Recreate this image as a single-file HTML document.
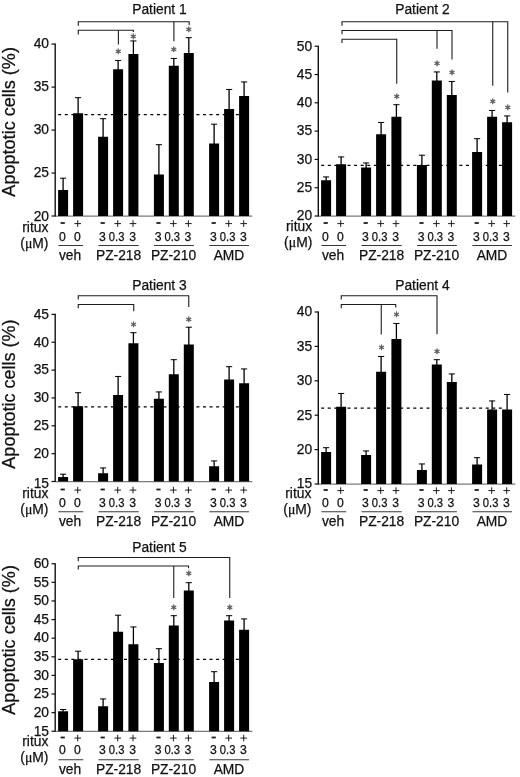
<!DOCTYPE html>
<html><head><meta charset="utf-8"><title>Apoptotic cells figure</title>
<style>
html,body{margin:0;padding:0;background:#fff;}
body{width:520px;height:777px;overflow:hidden;}
svg{display:block;font-family:"Liberation Sans",Arial,Helvetica,sans-serif;}
text{stroke:#111;stroke-width:.25px;}
text.st{font-family:"DejaVu Sans","Liberation Sans",sans-serif;stroke:#5e5e5e;stroke-width:.5px;}
.mu{font-family:"Liberation Serif","DejaVu Serif",serif;}
</style></head><body>
<svg width="520" height="777" viewBox="0 0 520 777">
<rect width="520" height="777" fill="#fff"/>
<line x1="55.2" y1="216.1" x2="252.3" y2="216.1" stroke="#7a7a7a" stroke-width="1.2"/>
<line x1="55.2" y1="43.5" x2="55.2" y2="216.5" stroke="#111" stroke-width="1.4"/>
<line x1="51.5" y1="44.1" x2="55.2" y2="44.1" stroke="#111" stroke-width="1.2"/>
<text x="49" y="48.4" font-size="13.8" text-anchor="end" fill="#111">40</text>
<line x1="51.5" y1="87.08" x2="55.2" y2="87.08" stroke="#111" stroke-width="1.2"/>
<text x="49" y="91.38" font-size="13.8" text-anchor="end" fill="#111">35</text>
<line x1="51.5" y1="130.05" x2="55.2" y2="130.05" stroke="#111" stroke-width="1.2"/>
<text x="49" y="134.35" font-size="13.8" text-anchor="end" fill="#111">30</text>
<line x1="51.5" y1="173.03" x2="55.2" y2="173.03" stroke="#111" stroke-width="1.2"/>
<text x="49" y="177.33" font-size="13.8" text-anchor="end" fill="#111">25</text>
<line x1="51.5" y1="216" x2="55.2" y2="216" stroke="#111" stroke-width="1.2"/>
<text x="49" y="220.6" font-size="13.8" text-anchor="end" fill="#111">20</text>
<line x1="58.2" y1="114.5" x2="241" y2="114.5" stroke="#000" stroke-width="1.25" stroke-dasharray="3 3.58"/>
<rect x="58.1" y="190" width="10" height="26" fill="#000"/>
<line x1="63.1" y1="178" x2="63.1" y2="190.5" stroke="#000" stroke-width="1.3"/>
<line x1="60" y1="178.2" x2="66.2" y2="178.2" stroke="#000" stroke-width="1"/>
<rect x="73.1" y="113.25" width="10" height="102.75" fill="#000"/>
<line x1="78.1" y1="97.5" x2="78.1" y2="113.75" stroke="#000" stroke-width="1.3"/>
<line x1="75" y1="97.7" x2="81.2" y2="97.7" stroke="#000" stroke-width="1"/>
<rect x="98.1" y="136.75" width="10" height="79.25" fill="#000"/>
<line x1="103.1" y1="118.5" x2="103.1" y2="137.25" stroke="#000" stroke-width="1.3"/>
<line x1="100" y1="118.7" x2="106.2" y2="118.7" stroke="#000" stroke-width="1"/>
<rect x="113.1" y="69.25" width="10" height="146.75" fill="#000"/>
<line x1="118.1" y1="60.25" x2="118.1" y2="69.75" stroke="#000" stroke-width="1.3"/>
<line x1="115" y1="60.45" x2="121.2" y2="60.45" stroke="#000" stroke-width="1"/>
<rect x="128.4" y="54" width="10" height="162" fill="#000"/>
<line x1="133.4" y1="40.75" x2="133.4" y2="54.5" stroke="#000" stroke-width="1.3"/>
<line x1="130.3" y1="40.95" x2="136.5" y2="40.95" stroke="#000" stroke-width="1"/>
<rect x="153.9" y="174.5" width="10" height="41.5" fill="#000"/>
<line x1="158.9" y1="144.5" x2="158.9" y2="175" stroke="#000" stroke-width="1.3"/>
<line x1="155.8" y1="144.7" x2="162" y2="144.7" stroke="#000" stroke-width="1"/>
<rect x="168.8" y="65.75" width="10" height="150.25" fill="#000"/>
<line x1="173.8" y1="58.25" x2="173.8" y2="66.25" stroke="#000" stroke-width="1.3"/>
<line x1="170.7" y1="58.45" x2="176.9" y2="58.45" stroke="#000" stroke-width="1"/>
<rect x="183.8" y="53" width="10" height="163" fill="#000"/>
<line x1="188.8" y1="37.5" x2="188.8" y2="53.5" stroke="#000" stroke-width="1.3"/>
<line x1="185.7" y1="37.7" x2="191.9" y2="37.7" stroke="#000" stroke-width="1"/>
<rect x="209.1" y="143.5" width="10" height="72.5" fill="#000"/>
<line x1="214.1" y1="124" x2="214.1" y2="144" stroke="#000" stroke-width="1.3"/>
<line x1="211" y1="124.2" x2="217.2" y2="124.2" stroke="#000" stroke-width="1"/>
<rect x="224.1" y="109" width="10" height="107" fill="#000"/>
<line x1="229.1" y1="89.25" x2="229.1" y2="109.5" stroke="#000" stroke-width="1.3"/>
<line x1="226" y1="89.45" x2="232.2" y2="89.45" stroke="#000" stroke-width="1"/>
<rect x="239.1" y="96" width="10" height="120" fill="#000"/>
<line x1="244.1" y1="81.75" x2="244.1" y2="96.5" stroke="#000" stroke-width="1.3"/>
<line x1="241" y1="81.95" x2="247.2" y2="81.95" stroke="#000" stroke-width="1"/>
<polyline points="78.25,25.75 78.25,21.75 189.2,21.75 189.2,25" fill="none" stroke="#1c1c1c" stroke-width="1.1"/>
<polyline points="78.25,34.4 78.25,30.2 133.4,30.2 133.4,31.9" fill="none" stroke="#1c1c1c" stroke-width="1.1"/>
<polyline points="118.4,30.2 118.4,44.5" fill="none" stroke="#1c1c1c" stroke-width="1.1"/>
<polyline points="173.9,21.75 173.9,41.25" fill="none" stroke="#1c1c1c" stroke-width="1.1"/>
<text class="st" x="118.25" y="54.3" font-size="8.4" text-anchor="middle" fill="#5e5e5e">∗</text>
<text class="st" x="133.25" y="38.55" font-size="8.4" text-anchor="middle" fill="#5e5e5e">∗</text>
<text class="st" x="173.75" y="52.3" font-size="8.4" text-anchor="middle" fill="#5e5e5e">∗</text>
<text class="st" x="188.75" y="31.55" font-size="8.4" text-anchor="middle" fill="#5e5e5e">∗</text>
<text x="132.2" y="14.35" font-size="13.8" fill="#111">Patient 1</text>
<text x="48.3" y="231.6" font-size="13.8" text-anchor="end" fill="#111">ritux</text>
<text x="20.3" y="247.6" font-size="13.8" textLength="28.2" lengthAdjust="spacingAndGlyphs" fill="#111">(<tspan class="mu">μ</tspan>M)</text>
<line x1="60.6" y1="223" x2="64.8" y2="223" stroke="#1c1c1c" stroke-width="1.8"/>
<line x1="74.4" y1="223.6" x2="81" y2="223.6" stroke="#1c1c1c" stroke-width="1"/>
<line x1="77.7" y1="220.3" x2="77.7" y2="226.9" stroke="#1c1c1c" stroke-width="1"/>
<line x1="100.6" y1="223" x2="104.8" y2="223" stroke="#1c1c1c" stroke-width="1.8"/>
<line x1="114.4" y1="223.6" x2="121" y2="223.6" stroke="#1c1c1c" stroke-width="1"/>
<line x1="117.7" y1="220.3" x2="117.7" y2="226.9" stroke="#1c1c1c" stroke-width="1"/>
<line x1="129.7" y1="223.6" x2="136.3" y2="223.6" stroke="#1c1c1c" stroke-width="1"/>
<line x1="133" y1="220.3" x2="133" y2="226.9" stroke="#1c1c1c" stroke-width="1"/>
<line x1="156.4" y1="223" x2="160.6" y2="223" stroke="#1c1c1c" stroke-width="1.8"/>
<line x1="170.1" y1="223.6" x2="176.7" y2="223.6" stroke="#1c1c1c" stroke-width="1"/>
<line x1="173.4" y1="220.3" x2="173.4" y2="226.9" stroke="#1c1c1c" stroke-width="1"/>
<line x1="185.1" y1="223.6" x2="191.7" y2="223.6" stroke="#1c1c1c" stroke-width="1"/>
<line x1="188.4" y1="220.3" x2="188.4" y2="226.9" stroke="#1c1c1c" stroke-width="1"/>
<line x1="211.6" y1="223" x2="215.8" y2="223" stroke="#1c1c1c" stroke-width="1.8"/>
<line x1="225.4" y1="223.6" x2="232" y2="223.6" stroke="#1c1c1c" stroke-width="1"/>
<line x1="228.7" y1="220.3" x2="228.7" y2="226.9" stroke="#1c1c1c" stroke-width="1"/>
<line x1="240.4" y1="223.6" x2="247" y2="223.6" stroke="#1c1c1c" stroke-width="1"/>
<line x1="243.7" y1="220.3" x2="243.7" y2="226.9" stroke="#1c1c1c" stroke-width="1"/>
<text x="62.3" y="240.65" font-size="12.2" text-anchor="middle" fill="#111">0</text>
<text x="77.3" y="240.65" font-size="12.2" text-anchor="middle" fill="#111">0</text>
<text x="102.3" y="240.65" font-size="12.2" text-anchor="middle" fill="#111">3</text>
<text x="116.6" y="240.65" font-size="12.2" text-anchor="middle" textLength="15.6" lengthAdjust="spacingAndGlyphs" fill="#111">0.3</text>
<text x="132.6" y="240.65" font-size="12.2" text-anchor="middle" fill="#111">3</text>
<text x="158.1" y="240.65" font-size="12.2" text-anchor="middle" fill="#111">3</text>
<text x="172.3" y="240.65" font-size="12.2" text-anchor="middle" textLength="15.6" lengthAdjust="spacingAndGlyphs" fill="#111">0.3</text>
<text x="188" y="240.65" font-size="12.2" text-anchor="middle" fill="#111">3</text>
<text x="213.3" y="240.65" font-size="12.2" text-anchor="middle" fill="#111">3</text>
<text x="227.6" y="240.65" font-size="12.2" text-anchor="middle" textLength="15.6" lengthAdjust="spacingAndGlyphs" fill="#111">0.3</text>
<text x="243.3" y="240.65" font-size="12.2" text-anchor="middle" fill="#111">3</text>
<line x1="58.4" y1="245.5" x2="83.2" y2="245.5" stroke="#222" stroke-width="0.9"/>
<text x="70" y="259.5" font-size="13.8" text-anchor="middle" fill="#111">veh</text>
<line x1="98.5" y1="245.5" x2="138.7" y2="245.5" stroke="#222" stroke-width="0.9"/>
<text x="118.6" y="259.5" font-size="13.8" text-anchor="middle" fill="#111">PZ-218</text>
<line x1="154.1" y1="245.5" x2="193.9" y2="245.5" stroke="#222" stroke-width="0.9"/>
<text x="173.5" y="259.5" font-size="13.8" text-anchor="middle" fill="#111">PZ-210</text>
<line x1="209.4" y1="245.5" x2="249" y2="245.5" stroke="#222" stroke-width="0.9"/>
<text x="229" y="259.5" font-size="13.8" text-anchor="middle" fill="#111">AMD</text>
<text transform="translate(15.1 121.85) rotate(-90)" font-size="18" text-anchor="middle" textLength="149.6" lengthAdjust="spacingAndGlyphs" fill="#111">Apoptotic cells (%)</text>
<line x1="318.3" y1="216.1" x2="515.3" y2="216.1" stroke="#7a7a7a" stroke-width="1.2"/>
<line x1="318.3" y1="45.65" x2="318.3" y2="216.5" stroke="#111" stroke-width="1.4"/>
<line x1="314.6" y1="46.25" x2="318.3" y2="46.25" stroke="#111" stroke-width="1.2"/>
<text x="312.1" y="50.55" font-size="13.8" text-anchor="end" fill="#111">50</text>
<line x1="314.6" y1="74.54" x2="318.3" y2="74.54" stroke="#111" stroke-width="1.2"/>
<text x="312.1" y="78.84" font-size="13.8" text-anchor="end" fill="#111">45</text>
<line x1="314.6" y1="102.83" x2="318.3" y2="102.83" stroke="#111" stroke-width="1.2"/>
<text x="312.1" y="107.13" font-size="13.8" text-anchor="end" fill="#111">40</text>
<line x1="314.6" y1="131.12" x2="318.3" y2="131.12" stroke="#111" stroke-width="1.2"/>
<text x="312.1" y="135.43" font-size="13.8" text-anchor="end" fill="#111">35</text>
<line x1="314.6" y1="159.42" x2="318.3" y2="159.42" stroke="#111" stroke-width="1.2"/>
<text x="312.1" y="163.72" font-size="13.8" text-anchor="end" fill="#111">30</text>
<line x1="314.6" y1="187.71" x2="318.3" y2="187.71" stroke="#111" stroke-width="1.2"/>
<text x="312.1" y="192.01" font-size="13.8" text-anchor="end" fill="#111">25</text>
<line x1="314.6" y1="216" x2="318.3" y2="216" stroke="#111" stroke-width="1.2"/>
<text x="312.1" y="220.2" font-size="13.8" text-anchor="end" fill="#111">20</text>
<line x1="321.2" y1="165.25" x2="504" y2="165.25" stroke="#000" stroke-width="1.25" stroke-dasharray="3 3.58"/>
<rect x="321.1" y="180.25" width="10" height="35.75" fill="#000"/>
<line x1="326.1" y1="176.75" x2="326.1" y2="180.75" stroke="#000" stroke-width="1.3"/>
<line x1="323" y1="176.95" x2="329.2" y2="176.95" stroke="#000" stroke-width="1"/>
<rect x="336.1" y="164.25" width="10" height="51.75" fill="#000"/>
<line x1="341.1" y1="156.75" x2="341.1" y2="164.75" stroke="#000" stroke-width="1.3"/>
<line x1="338" y1="156.95" x2="344.2" y2="156.95" stroke="#000" stroke-width="1"/>
<rect x="361.1" y="167.5" width="10" height="48.5" fill="#000"/>
<line x1="366.1" y1="162.75" x2="366.1" y2="168" stroke="#000" stroke-width="1.3"/>
<line x1="363" y1="162.95" x2="369.2" y2="162.95" stroke="#000" stroke-width="1"/>
<rect x="376.1" y="134.25" width="10" height="81.75" fill="#000"/>
<line x1="381.1" y1="122.25" x2="381.1" y2="134.75" stroke="#000" stroke-width="1.3"/>
<line x1="378" y1="122.45" x2="384.2" y2="122.45" stroke="#000" stroke-width="1"/>
<rect x="391.4" y="116.75" width="10" height="99.25" fill="#000"/>
<line x1="396.4" y1="104.5" x2="396.4" y2="117.25" stroke="#000" stroke-width="1.3"/>
<line x1="393.3" y1="104.7" x2="399.5" y2="104.7" stroke="#000" stroke-width="1"/>
<rect x="416.9" y="165" width="10" height="51" fill="#000"/>
<line x1="421.9" y1="155" x2="421.9" y2="165.5" stroke="#000" stroke-width="1.3"/>
<line x1="418.8" y1="155.2" x2="425" y2="155.2" stroke="#000" stroke-width="1"/>
<rect x="431.8" y="80.5" width="10" height="135.5" fill="#000"/>
<line x1="436.8" y1="71.75" x2="436.8" y2="81" stroke="#000" stroke-width="1.3"/>
<line x1="433.7" y1="71.95" x2="439.9" y2="71.95" stroke="#000" stroke-width="1"/>
<rect x="446.8" y="95" width="10" height="121" fill="#000"/>
<line x1="451.8" y1="81.25" x2="451.8" y2="95.5" stroke="#000" stroke-width="1.3"/>
<line x1="448.7" y1="81.45" x2="454.9" y2="81.45" stroke="#000" stroke-width="1"/>
<rect x="472.1" y="152" width="10" height="64" fill="#000"/>
<line x1="477.1" y1="138.5" x2="477.1" y2="152.5" stroke="#000" stroke-width="1.3"/>
<line x1="474" y1="138.7" x2="480.2" y2="138.7" stroke="#000" stroke-width="1"/>
<rect x="487.1" y="116.75" width="10" height="99.25" fill="#000"/>
<line x1="492.1" y1="110.25" x2="492.1" y2="117.25" stroke="#000" stroke-width="1.3"/>
<line x1="489" y1="110.45" x2="495.2" y2="110.45" stroke="#000" stroke-width="1"/>
<rect x="502.1" y="122.25" width="10" height="93.75" fill="#000"/>
<line x1="507.1" y1="115.75" x2="507.1" y2="122.75" stroke="#000" stroke-width="1.3"/>
<line x1="504" y1="115.95" x2="510.2" y2="115.95" stroke="#000" stroke-width="1"/>
<polyline points="342,25.75 342,21.75 507.75,21.75 507.75,92.5" fill="none" stroke="#1c1c1c" stroke-width="1.1"/>
<polyline points="492.75,21.75 492.75,85.75" fill="none" stroke="#1c1c1c" stroke-width="1.1"/>
<polyline points="342,34.25 342,30.5 452,30.5 452,59.5" fill="none" stroke="#1c1c1c" stroke-width="1.1"/>
<polyline points="437,30.5 437,48.75" fill="none" stroke="#1c1c1c" stroke-width="1.1"/>
<polyline points="342,43 342,39.25 396.75,39.25 396.75,83.75" fill="none" stroke="#1c1c1c" stroke-width="1.1"/>
<text class="st" x="396.75" y="98.55" font-size="8.4" text-anchor="middle" fill="#5e5e5e">∗</text>
<text class="st" x="437" y="65.55" font-size="8.4" text-anchor="middle" fill="#5e5e5e">∗</text>
<text class="st" x="452" y="75.3" font-size="8.4" text-anchor="middle" fill="#5e5e5e">∗</text>
<text class="st" x="492.75" y="104.3" font-size="8.4" text-anchor="middle" fill="#5e5e5e">∗</text>
<text class="st" x="507.75" y="109.8" font-size="8.4" text-anchor="middle" fill="#5e5e5e">∗</text>
<text x="395.2" y="14.35" font-size="13.8" fill="#111">Patient 2</text>
<text x="312.1" y="230.8" font-size="13.8" text-anchor="end" fill="#111">ritux</text>
<text x="284.1" y="247.4" font-size="13.8" textLength="28.2" lengthAdjust="spacingAndGlyphs" fill="#111">(<tspan class="mu">μ</tspan>M)</text>
<line x1="323.6" y1="223" x2="327.8" y2="223" stroke="#1c1c1c" stroke-width="1.8"/>
<line x1="337.4" y1="223.6" x2="344" y2="223.6" stroke="#1c1c1c" stroke-width="1"/>
<line x1="340.7" y1="220.3" x2="340.7" y2="226.9" stroke="#1c1c1c" stroke-width="1"/>
<line x1="363.6" y1="223" x2="367.8" y2="223" stroke="#1c1c1c" stroke-width="1.8"/>
<line x1="377.4" y1="223.6" x2="384" y2="223.6" stroke="#1c1c1c" stroke-width="1"/>
<line x1="380.7" y1="220.3" x2="380.7" y2="226.9" stroke="#1c1c1c" stroke-width="1"/>
<line x1="392.7" y1="223.6" x2="399.3" y2="223.6" stroke="#1c1c1c" stroke-width="1"/>
<line x1="396" y1="220.3" x2="396" y2="226.9" stroke="#1c1c1c" stroke-width="1"/>
<line x1="419.4" y1="223" x2="423.6" y2="223" stroke="#1c1c1c" stroke-width="1.8"/>
<line x1="433.1" y1="223.6" x2="439.7" y2="223.6" stroke="#1c1c1c" stroke-width="1"/>
<line x1="436.4" y1="220.3" x2="436.4" y2="226.9" stroke="#1c1c1c" stroke-width="1"/>
<line x1="448.1" y1="223.6" x2="454.7" y2="223.6" stroke="#1c1c1c" stroke-width="1"/>
<line x1="451.4" y1="220.3" x2="451.4" y2="226.9" stroke="#1c1c1c" stroke-width="1"/>
<line x1="474.6" y1="223" x2="478.8" y2="223" stroke="#1c1c1c" stroke-width="1.8"/>
<line x1="488.4" y1="223.6" x2="495" y2="223.6" stroke="#1c1c1c" stroke-width="1"/>
<line x1="491.7" y1="220.3" x2="491.7" y2="226.9" stroke="#1c1c1c" stroke-width="1"/>
<line x1="503.4" y1="223.6" x2="510" y2="223.6" stroke="#1c1c1c" stroke-width="1"/>
<line x1="506.7" y1="220.3" x2="506.7" y2="226.9" stroke="#1c1c1c" stroke-width="1"/>
<text x="325.3" y="240.65" font-size="12.2" text-anchor="middle" fill="#111">0</text>
<text x="340.3" y="240.65" font-size="12.2" text-anchor="middle" fill="#111">0</text>
<text x="365.3" y="240.65" font-size="12.2" text-anchor="middle" fill="#111">3</text>
<text x="379.6" y="240.65" font-size="12.2" text-anchor="middle" textLength="15.6" lengthAdjust="spacingAndGlyphs" fill="#111">0.3</text>
<text x="395.6" y="240.65" font-size="12.2" text-anchor="middle" fill="#111">3</text>
<text x="421.1" y="240.65" font-size="12.2" text-anchor="middle" fill="#111">3</text>
<text x="435.3" y="240.65" font-size="12.2" text-anchor="middle" textLength="15.6" lengthAdjust="spacingAndGlyphs" fill="#111">0.3</text>
<text x="451" y="240.65" font-size="12.2" text-anchor="middle" fill="#111">3</text>
<text x="476.3" y="240.65" font-size="12.2" text-anchor="middle" fill="#111">3</text>
<text x="490.6" y="240.65" font-size="12.2" text-anchor="middle" textLength="15.6" lengthAdjust="spacingAndGlyphs" fill="#111">0.3</text>
<text x="506.3" y="240.65" font-size="12.2" text-anchor="middle" fill="#111">3</text>
<line x1="321.4" y1="245.5" x2="346.2" y2="245.5" stroke="#222" stroke-width="0.9"/>
<text x="333" y="259.5" font-size="13.8" text-anchor="middle" fill="#111">veh</text>
<line x1="361.5" y1="245.5" x2="401.7" y2="245.5" stroke="#222" stroke-width="0.9"/>
<text x="381.6" y="259.5" font-size="13.8" text-anchor="middle" fill="#111">PZ-218</text>
<line x1="417.1" y1="245.5" x2="456.9" y2="245.5" stroke="#222" stroke-width="0.9"/>
<text x="436.5" y="259.5" font-size="13.8" text-anchor="middle" fill="#111">PZ-210</text>
<line x1="472.4" y1="245.5" x2="512" y2="245.5" stroke="#222" stroke-width="0.9"/>
<text x="492" y="259.5" font-size="13.8" text-anchor="middle" fill="#111">AMD</text>
<line x1="55.2" y1="481.6" x2="252.3" y2="481.6" stroke="#7a7a7a" stroke-width="1.2"/>
<line x1="55.2" y1="313.8" x2="55.2" y2="482" stroke="#111" stroke-width="1.4"/>
<line x1="51.5" y1="314.4" x2="55.2" y2="314.4" stroke="#111" stroke-width="1.2"/>
<text x="49" y="318.7" font-size="13.8" text-anchor="end" fill="#111">45</text>
<line x1="51.5" y1="342.25" x2="55.2" y2="342.25" stroke="#111" stroke-width="1.2"/>
<text x="49" y="346.55" font-size="13.8" text-anchor="end" fill="#111">40</text>
<line x1="51.5" y1="370.1" x2="55.2" y2="370.1" stroke="#111" stroke-width="1.2"/>
<text x="49" y="374.4" font-size="13.8" text-anchor="end" fill="#111">35</text>
<line x1="51.5" y1="397.95" x2="55.2" y2="397.95" stroke="#111" stroke-width="1.2"/>
<text x="49" y="402.25" font-size="13.8" text-anchor="end" fill="#111">30</text>
<line x1="51.5" y1="425.8" x2="55.2" y2="425.8" stroke="#111" stroke-width="1.2"/>
<text x="49" y="430.1" font-size="13.8" text-anchor="end" fill="#111">25</text>
<line x1="51.5" y1="453.65" x2="55.2" y2="453.65" stroke="#111" stroke-width="1.2"/>
<text x="49" y="457.95" font-size="13.8" text-anchor="end" fill="#111">20</text>
<line x1="51.5" y1="481.5" x2="55.2" y2="481.5" stroke="#111" stroke-width="1.2"/>
<text x="49" y="488" font-size="13.8" text-anchor="end" fill="#111">15</text>
<line x1="58.2" y1="406.75" x2="241" y2="406.75" stroke="#000" stroke-width="1.25" stroke-dasharray="3 3.58"/>
<rect x="58.1" y="477" width="10" height="4.5" fill="#000"/>
<line x1="63.1" y1="474" x2="63.1" y2="477.5" stroke="#000" stroke-width="1.3"/>
<line x1="60" y1="474.2" x2="66.2" y2="474.2" stroke="#000" stroke-width="1"/>
<rect x="73.1" y="406.25" width="10" height="75.25" fill="#000"/>
<line x1="78.1" y1="392.5" x2="78.1" y2="406.75" stroke="#000" stroke-width="1.3"/>
<line x1="75" y1="392.7" x2="81.2" y2="392.7" stroke="#000" stroke-width="1"/>
<rect x="98.1" y="473.25" width="10" height="8.25" fill="#000"/>
<line x1="103.1" y1="467.75" x2="103.1" y2="473.75" stroke="#000" stroke-width="1.3"/>
<line x1="100" y1="467.95" x2="106.2" y2="467.95" stroke="#000" stroke-width="1"/>
<rect x="113.1" y="395" width="10" height="86.5" fill="#000"/>
<line x1="118.1" y1="376.25" x2="118.1" y2="395.5" stroke="#000" stroke-width="1.3"/>
<line x1="115" y1="376.45" x2="121.2" y2="376.45" stroke="#000" stroke-width="1"/>
<rect x="128.4" y="343.25" width="10" height="138.25" fill="#000"/>
<line x1="133.4" y1="332.5" x2="133.4" y2="343.75" stroke="#000" stroke-width="1.3"/>
<line x1="130.3" y1="332.7" x2="136.5" y2="332.7" stroke="#000" stroke-width="1"/>
<rect x="153.9" y="398.75" width="10" height="82.75" fill="#000"/>
<line x1="158.9" y1="391.75" x2="158.9" y2="399.25" stroke="#000" stroke-width="1.3"/>
<line x1="155.8" y1="391.95" x2="162" y2="391.95" stroke="#000" stroke-width="1"/>
<rect x="168.8" y="374.25" width="10" height="107.25" fill="#000"/>
<line x1="173.8" y1="359.5" x2="173.8" y2="374.75" stroke="#000" stroke-width="1.3"/>
<line x1="170.7" y1="359.7" x2="176.9" y2="359.7" stroke="#000" stroke-width="1"/>
<rect x="183.8" y="344.5" width="10" height="137" fill="#000"/>
<line x1="188.8" y1="327" x2="188.8" y2="345" stroke="#000" stroke-width="1.3"/>
<line x1="185.7" y1="327.2" x2="191.9" y2="327.2" stroke="#000" stroke-width="1"/>
<rect x="209.1" y="466.25" width="10" height="15.25" fill="#000"/>
<line x1="214.1" y1="460.75" x2="214.1" y2="466.75" stroke="#000" stroke-width="1.3"/>
<line x1="211" y1="460.95" x2="217.2" y2="460.95" stroke="#000" stroke-width="1"/>
<rect x="224.1" y="379.5" width="10" height="102" fill="#000"/>
<line x1="229.1" y1="366.5" x2="229.1" y2="380" stroke="#000" stroke-width="1.3"/>
<line x1="226" y1="366.7" x2="232.2" y2="366.7" stroke="#000" stroke-width="1"/>
<rect x="239.1" y="383.25" width="10" height="98.25" fill="#000"/>
<line x1="244.1" y1="368.75" x2="244.1" y2="383.75" stroke="#000" stroke-width="1.3"/>
<line x1="241" y1="368.95" x2="247.2" y2="368.95" stroke="#000" stroke-width="1"/>
<polyline points="78.25,299.5 78.25,295.75 188.75,295.75 188.75,307" fill="none" stroke="#1c1c1c" stroke-width="1.1"/>
<polyline points="78.25,308.25 78.25,304.5 133.75,304.5 133.75,311.25" fill="none" stroke="#1c1c1c" stroke-width="1.1"/>
<text class="st" x="133.5" y="326.55" font-size="8.4" text-anchor="middle" fill="#5e5e5e">∗</text>
<text class="st" x="188.75" y="321.55" font-size="8.4" text-anchor="middle" fill="#5e5e5e">∗</text>
<text x="132.2" y="290.1" font-size="13.8" fill="#111">Patient 3</text>
<text x="48.3" y="498" font-size="13.8" text-anchor="end" fill="#111">ritux</text>
<text x="20.3" y="514" font-size="13.8" textLength="28.2" lengthAdjust="spacingAndGlyphs" fill="#111">(<tspan class="mu">μ</tspan>M)</text>
<line x1="60.6" y1="489.5" x2="64.8" y2="489.5" stroke="#1c1c1c" stroke-width="1.8"/>
<line x1="74.4" y1="490.1" x2="81" y2="490.1" stroke="#1c1c1c" stroke-width="1"/>
<line x1="77.7" y1="486.8" x2="77.7" y2="493.4" stroke="#1c1c1c" stroke-width="1"/>
<line x1="100.6" y1="489.5" x2="104.8" y2="489.5" stroke="#1c1c1c" stroke-width="1.8"/>
<line x1="114.4" y1="490.1" x2="121" y2="490.1" stroke="#1c1c1c" stroke-width="1"/>
<line x1="117.7" y1="486.8" x2="117.7" y2="493.4" stroke="#1c1c1c" stroke-width="1"/>
<line x1="129.7" y1="490.1" x2="136.3" y2="490.1" stroke="#1c1c1c" stroke-width="1"/>
<line x1="133" y1="486.8" x2="133" y2="493.4" stroke="#1c1c1c" stroke-width="1"/>
<line x1="156.4" y1="489.5" x2="160.6" y2="489.5" stroke="#1c1c1c" stroke-width="1.8"/>
<line x1="170.1" y1="490.1" x2="176.7" y2="490.1" stroke="#1c1c1c" stroke-width="1"/>
<line x1="173.4" y1="486.8" x2="173.4" y2="493.4" stroke="#1c1c1c" stroke-width="1"/>
<line x1="185.1" y1="490.1" x2="191.7" y2="490.1" stroke="#1c1c1c" stroke-width="1"/>
<line x1="188.4" y1="486.8" x2="188.4" y2="493.4" stroke="#1c1c1c" stroke-width="1"/>
<line x1="211.6" y1="489.5" x2="215.8" y2="489.5" stroke="#1c1c1c" stroke-width="1.8"/>
<line x1="225.4" y1="490.1" x2="232" y2="490.1" stroke="#1c1c1c" stroke-width="1"/>
<line x1="228.7" y1="486.8" x2="228.7" y2="493.4" stroke="#1c1c1c" stroke-width="1"/>
<line x1="240.4" y1="490.1" x2="247" y2="490.1" stroke="#1c1c1c" stroke-width="1"/>
<line x1="243.7" y1="486.8" x2="243.7" y2="493.4" stroke="#1c1c1c" stroke-width="1"/>
<text x="62.3" y="506.9" font-size="12.2" text-anchor="middle" fill="#111">0</text>
<text x="77.3" y="506.9" font-size="12.2" text-anchor="middle" fill="#111">0</text>
<text x="102.3" y="506.9" font-size="12.2" text-anchor="middle" fill="#111">3</text>
<text x="116.6" y="506.9" font-size="12.2" text-anchor="middle" textLength="15.6" lengthAdjust="spacingAndGlyphs" fill="#111">0.3</text>
<text x="132.6" y="506.9" font-size="12.2" text-anchor="middle" fill="#111">3</text>
<text x="158.1" y="506.9" font-size="12.2" text-anchor="middle" fill="#111">3</text>
<text x="172.3" y="506.9" font-size="12.2" text-anchor="middle" textLength="15.6" lengthAdjust="spacingAndGlyphs" fill="#111">0.3</text>
<text x="188" y="506.9" font-size="12.2" text-anchor="middle" fill="#111">3</text>
<text x="213.3" y="506.9" font-size="12.2" text-anchor="middle" fill="#111">3</text>
<text x="227.6" y="506.9" font-size="12.2" text-anchor="middle" textLength="15.6" lengthAdjust="spacingAndGlyphs" fill="#111">0.3</text>
<text x="243.3" y="506.9" font-size="12.2" text-anchor="middle" fill="#111">3</text>
<line x1="58.4" y1="511.75" x2="83.2" y2="511.75" stroke="#222" stroke-width="0.9"/>
<text x="70" y="526.25" font-size="13.8" text-anchor="middle" fill="#111">veh</text>
<line x1="98.5" y1="511.75" x2="138.7" y2="511.75" stroke="#222" stroke-width="0.9"/>
<text x="118.6" y="526.25" font-size="13.8" text-anchor="middle" fill="#111">PZ-218</text>
<line x1="154.1" y1="511.75" x2="193.9" y2="511.75" stroke="#222" stroke-width="0.9"/>
<text x="173.5" y="526.25" font-size="13.8" text-anchor="middle" fill="#111">PZ-210</text>
<line x1="209.4" y1="511.75" x2="249" y2="511.75" stroke="#222" stroke-width="0.9"/>
<text x="229" y="526.25" font-size="13.8" text-anchor="middle" fill="#111">AMD</text>
<text transform="translate(15.1 394.05) rotate(-90)" font-size="18" text-anchor="middle" textLength="149.2" lengthAdjust="spacingAndGlyphs" fill="#111">Apoptotic cells (%)</text>
<line x1="318.3" y1="484.1" x2="515.3" y2="484.1" stroke="#7a7a7a" stroke-width="1.2"/>
<line x1="318.3" y1="311.4" x2="318.3" y2="484.5" stroke="#111" stroke-width="1.4"/>
<line x1="314.6" y1="312" x2="318.3" y2="312" stroke="#111" stroke-width="1.2"/>
<text x="312.1" y="316.3" font-size="13.8" text-anchor="end" fill="#111">40</text>
<line x1="314.6" y1="346.4" x2="318.3" y2="346.4" stroke="#111" stroke-width="1.2"/>
<text x="312.1" y="350.7" font-size="13.8" text-anchor="end" fill="#111">35</text>
<line x1="314.6" y1="380.8" x2="318.3" y2="380.8" stroke="#111" stroke-width="1.2"/>
<text x="312.1" y="385.1" font-size="13.8" text-anchor="end" fill="#111">30</text>
<line x1="314.6" y1="415.2" x2="318.3" y2="415.2" stroke="#111" stroke-width="1.2"/>
<text x="312.1" y="419.5" font-size="13.8" text-anchor="end" fill="#111">25</text>
<line x1="314.6" y1="449.6" x2="318.3" y2="449.6" stroke="#111" stroke-width="1.2"/>
<text x="312.1" y="453.9" font-size="13.8" text-anchor="end" fill="#111">20</text>
<line x1="314.6" y1="484" x2="318.3" y2="484" stroke="#111" stroke-width="1.2"/>
<text x="312.1" y="487.9" font-size="13.8" text-anchor="end" fill="#111">15</text>
<line x1="321.2" y1="408" x2="504" y2="408" stroke="#000" stroke-width="1.25" stroke-dasharray="3 3.58"/>
<rect x="321.1" y="452" width="10" height="32" fill="#000"/>
<line x1="326.1" y1="447.5" x2="326.1" y2="452.5" stroke="#000" stroke-width="1.3"/>
<line x1="323" y1="447.7" x2="329.2" y2="447.7" stroke="#000" stroke-width="1"/>
<rect x="336.1" y="406.75" width="10" height="77.25" fill="#000"/>
<line x1="341.1" y1="393.25" x2="341.1" y2="407.25" stroke="#000" stroke-width="1.3"/>
<line x1="338" y1="393.45" x2="344.2" y2="393.45" stroke="#000" stroke-width="1"/>
<rect x="361.1" y="455" width="10" height="29" fill="#000"/>
<line x1="366.1" y1="450.75" x2="366.1" y2="455.5" stroke="#000" stroke-width="1.3"/>
<line x1="363" y1="450.95" x2="369.2" y2="450.95" stroke="#000" stroke-width="1"/>
<rect x="376.1" y="371.75" width="10" height="112.25" fill="#000"/>
<line x1="381.1" y1="356.25" x2="381.1" y2="372.25" stroke="#000" stroke-width="1.3"/>
<line x1="378" y1="356.45" x2="384.2" y2="356.45" stroke="#000" stroke-width="1"/>
<rect x="391.4" y="339" width="10" height="145" fill="#000"/>
<line x1="396.4" y1="323.25" x2="396.4" y2="339.5" stroke="#000" stroke-width="1.3"/>
<line x1="393.3" y1="323.45" x2="399.5" y2="323.45" stroke="#000" stroke-width="1"/>
<rect x="416.9" y="470" width="10" height="14" fill="#000"/>
<line x1="421.9" y1="463.75" x2="421.9" y2="470.5" stroke="#000" stroke-width="1.3"/>
<line x1="418.8" y1="463.95" x2="425" y2="463.95" stroke="#000" stroke-width="1"/>
<rect x="431.8" y="364.5" width="10" height="119.5" fill="#000"/>
<line x1="436.8" y1="359.5" x2="436.8" y2="365" stroke="#000" stroke-width="1.3"/>
<line x1="433.7" y1="359.7" x2="439.9" y2="359.7" stroke="#000" stroke-width="1"/>
<rect x="446.8" y="382" width="10" height="102" fill="#000"/>
<line x1="451.8" y1="373.75" x2="451.8" y2="382.5" stroke="#000" stroke-width="1.3"/>
<line x1="448.7" y1="373.95" x2="454.9" y2="373.95" stroke="#000" stroke-width="1"/>
<rect x="472.1" y="464.5" width="10" height="19.5" fill="#000"/>
<line x1="477.1" y1="457.5" x2="477.1" y2="465" stroke="#000" stroke-width="1.3"/>
<line x1="474" y1="457.7" x2="480.2" y2="457.7" stroke="#000" stroke-width="1"/>
<rect x="487.1" y="409.5" width="10" height="74.5" fill="#000"/>
<line x1="492.1" y1="400.75" x2="492.1" y2="410" stroke="#000" stroke-width="1.3"/>
<line x1="489" y1="400.95" x2="495.2" y2="400.95" stroke="#000" stroke-width="1"/>
<rect x="502.1" y="409.5" width="10" height="74.5" fill="#000"/>
<line x1="507.1" y1="394.25" x2="507.1" y2="410" stroke="#000" stroke-width="1.3"/>
<line x1="504" y1="394.45" x2="510.2" y2="394.45" stroke="#000" stroke-width="1"/>
<polyline points="341.25,299.5 341.25,295.75 437,295.75 437,334.25" fill="none" stroke="#1c1c1c" stroke-width="1.1"/>
<polyline points="341.25,308.25 341.25,304.5 395.75,304.5 395.75,307.5" fill="none" stroke="#1c1c1c" stroke-width="1.1"/>
<polyline points="381.25,304.5 381.25,334.5" fill="none" stroke="#1c1c1c" stroke-width="1.1"/>
<text class="st" x="381.5" y="350.3" font-size="8.4" text-anchor="middle" fill="#5e5e5e">∗</text>
<text class="st" x="396.5" y="317.3" font-size="8.4" text-anchor="middle" fill="#5e5e5e">∗</text>
<text class="st" x="437" y="353.55" font-size="8.4" text-anchor="middle" fill="#5e5e5e">∗</text>
<text x="395.2" y="290.1" font-size="13.8" fill="#111">Patient 4</text>
<text x="311.3" y="498" font-size="13.8" text-anchor="end" fill="#111">ritux</text>
<text x="283.3" y="514" font-size="13.8" textLength="28.2" lengthAdjust="spacingAndGlyphs" fill="#111">(<tspan class="mu">μ</tspan>M)</text>
<line x1="323.6" y1="490" x2="327.8" y2="490" stroke="#1c1c1c" stroke-width="1.8"/>
<line x1="337.4" y1="490.6" x2="344" y2="490.6" stroke="#1c1c1c" stroke-width="1"/>
<line x1="340.7" y1="487.3" x2="340.7" y2="493.9" stroke="#1c1c1c" stroke-width="1"/>
<line x1="363.6" y1="490" x2="367.8" y2="490" stroke="#1c1c1c" stroke-width="1.8"/>
<line x1="377.4" y1="490.6" x2="384" y2="490.6" stroke="#1c1c1c" stroke-width="1"/>
<line x1="380.7" y1="487.3" x2="380.7" y2="493.9" stroke="#1c1c1c" stroke-width="1"/>
<line x1="392.7" y1="490.6" x2="399.3" y2="490.6" stroke="#1c1c1c" stroke-width="1"/>
<line x1="396" y1="487.3" x2="396" y2="493.9" stroke="#1c1c1c" stroke-width="1"/>
<line x1="419.4" y1="490" x2="423.6" y2="490" stroke="#1c1c1c" stroke-width="1.8"/>
<line x1="433.1" y1="490.6" x2="439.7" y2="490.6" stroke="#1c1c1c" stroke-width="1"/>
<line x1="436.4" y1="487.3" x2="436.4" y2="493.9" stroke="#1c1c1c" stroke-width="1"/>
<line x1="448.1" y1="490.6" x2="454.7" y2="490.6" stroke="#1c1c1c" stroke-width="1"/>
<line x1="451.4" y1="487.3" x2="451.4" y2="493.9" stroke="#1c1c1c" stroke-width="1"/>
<line x1="474.6" y1="490" x2="478.8" y2="490" stroke="#1c1c1c" stroke-width="1.8"/>
<line x1="488.4" y1="490.6" x2="495" y2="490.6" stroke="#1c1c1c" stroke-width="1"/>
<line x1="491.7" y1="487.3" x2="491.7" y2="493.9" stroke="#1c1c1c" stroke-width="1"/>
<line x1="503.4" y1="490.6" x2="510" y2="490.6" stroke="#1c1c1c" stroke-width="1"/>
<line x1="506.7" y1="487.3" x2="506.7" y2="493.9" stroke="#1c1c1c" stroke-width="1"/>
<text x="325.3" y="506.9" font-size="12.2" text-anchor="middle" fill="#111">0</text>
<text x="340.3" y="506.9" font-size="12.2" text-anchor="middle" fill="#111">0</text>
<text x="365.3" y="506.9" font-size="12.2" text-anchor="middle" fill="#111">3</text>
<text x="379.6" y="506.9" font-size="12.2" text-anchor="middle" textLength="15.6" lengthAdjust="spacingAndGlyphs" fill="#111">0.3</text>
<text x="395.6" y="506.9" font-size="12.2" text-anchor="middle" fill="#111">3</text>
<text x="421.1" y="506.9" font-size="12.2" text-anchor="middle" fill="#111">3</text>
<text x="435.3" y="506.9" font-size="12.2" text-anchor="middle" textLength="15.6" lengthAdjust="spacingAndGlyphs" fill="#111">0.3</text>
<text x="451" y="506.9" font-size="12.2" text-anchor="middle" fill="#111">3</text>
<text x="476.3" y="506.9" font-size="12.2" text-anchor="middle" fill="#111">3</text>
<text x="490.6" y="506.9" font-size="12.2" text-anchor="middle" textLength="15.6" lengthAdjust="spacingAndGlyphs" fill="#111">0.3</text>
<text x="506.3" y="506.9" font-size="12.2" text-anchor="middle" fill="#111">3</text>
<line x1="321.4" y1="511.75" x2="346.2" y2="511.75" stroke="#222" stroke-width="0.9"/>
<text x="333" y="526.25" font-size="13.8" text-anchor="middle" fill="#111">veh</text>
<line x1="361.5" y1="511.75" x2="401.7" y2="511.75" stroke="#222" stroke-width="0.9"/>
<text x="381.6" y="526.25" font-size="13.8" text-anchor="middle" fill="#111">PZ-218</text>
<line x1="417.1" y1="511.75" x2="456.9" y2="511.75" stroke="#222" stroke-width="0.9"/>
<text x="436.5" y="526.25" font-size="13.8" text-anchor="middle" fill="#111">PZ-210</text>
<line x1="472.4" y1="511.75" x2="512" y2="511.75" stroke="#222" stroke-width="0.9"/>
<text x="492" y="526.25" font-size="13.8" text-anchor="middle" fill="#111">AMD</text>
<line x1="55.2" y1="731.35" x2="252.3" y2="731.35" stroke="#7a7a7a" stroke-width="1.2"/>
<line x1="55.2" y1="563.15" x2="55.2" y2="731.75" stroke="#111" stroke-width="1.4"/>
<line x1="51.5" y1="563.75" x2="55.2" y2="563.75" stroke="#111" stroke-width="1.2"/>
<text x="49" y="568.05" font-size="13.8" text-anchor="end" fill="#111">60</text>
<line x1="51.5" y1="582.36" x2="55.2" y2="582.36" stroke="#111" stroke-width="1.2"/>
<text x="49" y="586.66" font-size="13.8" text-anchor="end" fill="#111">55</text>
<line x1="51.5" y1="600.97" x2="55.2" y2="600.97" stroke="#111" stroke-width="1.2"/>
<text x="49" y="605.27" font-size="13.8" text-anchor="end" fill="#111">50</text>
<line x1="51.5" y1="619.58" x2="55.2" y2="619.58" stroke="#111" stroke-width="1.2"/>
<text x="49" y="623.88" font-size="13.8" text-anchor="end" fill="#111">45</text>
<line x1="51.5" y1="638.19" x2="55.2" y2="638.19" stroke="#111" stroke-width="1.2"/>
<text x="49" y="642.49" font-size="13.8" text-anchor="end" fill="#111">40</text>
<line x1="51.5" y1="656.81" x2="55.2" y2="656.81" stroke="#111" stroke-width="1.2"/>
<text x="49" y="661.11" font-size="13.8" text-anchor="end" fill="#111">35</text>
<line x1="51.5" y1="675.42" x2="55.2" y2="675.42" stroke="#111" stroke-width="1.2"/>
<text x="49" y="679.72" font-size="13.8" text-anchor="end" fill="#111">30</text>
<line x1="51.5" y1="694.03" x2="55.2" y2="694.03" stroke="#111" stroke-width="1.2"/>
<text x="49" y="698.33" font-size="13.8" text-anchor="end" fill="#111">25</text>
<line x1="51.5" y1="712.64" x2="55.2" y2="712.64" stroke="#111" stroke-width="1.2"/>
<text x="49" y="716.94" font-size="13.8" text-anchor="end" fill="#111">20</text>
<line x1="51.5" y1="731.25" x2="55.2" y2="731.25" stroke="#111" stroke-width="1.2"/>
<text x="49" y="735.75" font-size="13.8" text-anchor="end" fill="#111">15</text>
<line x1="58.2" y1="659.25" x2="241" y2="659.25" stroke="#000" stroke-width="1.25" stroke-dasharray="3 3.58"/>
<rect x="58.1" y="711.3" width="10" height="19.95" fill="#000"/>
<line x1="63.1" y1="709.3" x2="63.1" y2="711.8" stroke="#000" stroke-width="1.3"/>
<line x1="60" y1="709.5" x2="66.2" y2="709.5" stroke="#000" stroke-width="1"/>
<rect x="73.1" y="659.25" width="10" height="72" fill="#000"/>
<line x1="78.1" y1="651" x2="78.1" y2="659.75" stroke="#000" stroke-width="1.3"/>
<line x1="75" y1="651.2" x2="81.2" y2="651.2" stroke="#000" stroke-width="1"/>
<rect x="98.1" y="706.25" width="10" height="25" fill="#000"/>
<line x1="103.1" y1="698.75" x2="103.1" y2="706.75" stroke="#000" stroke-width="1.3"/>
<line x1="100" y1="698.95" x2="106.2" y2="698.95" stroke="#000" stroke-width="1"/>
<rect x="113.1" y="631.75" width="10" height="99.5" fill="#000"/>
<line x1="118.1" y1="615" x2="118.1" y2="632.25" stroke="#000" stroke-width="1.3"/>
<line x1="115" y1="615.2" x2="121.2" y2="615.2" stroke="#000" stroke-width="1"/>
<rect x="128.4" y="644.25" width="10" height="87" fill="#000"/>
<line x1="133.4" y1="626.75" x2="133.4" y2="644.75" stroke="#000" stroke-width="1.3"/>
<line x1="130.3" y1="626.95" x2="136.5" y2="626.95" stroke="#000" stroke-width="1"/>
<rect x="153.9" y="663" width="10" height="68.25" fill="#000"/>
<line x1="158.9" y1="648.5" x2="158.9" y2="663.5" stroke="#000" stroke-width="1.3"/>
<line x1="155.8" y1="648.7" x2="162" y2="648.7" stroke="#000" stroke-width="1"/>
<rect x="168.8" y="625.5" width="10" height="105.75" fill="#000"/>
<line x1="173.8" y1="615.5" x2="173.8" y2="626" stroke="#000" stroke-width="1.3"/>
<line x1="170.7" y1="615.7" x2="176.9" y2="615.7" stroke="#000" stroke-width="1"/>
<rect x="183.8" y="590.5" width="10" height="140.75" fill="#000"/>
<line x1="188.8" y1="582.5" x2="188.8" y2="591" stroke="#000" stroke-width="1.3"/>
<line x1="185.7" y1="582.7" x2="191.9" y2="582.7" stroke="#000" stroke-width="1"/>
<rect x="209.1" y="682" width="10" height="49.25" fill="#000"/>
<line x1="214.1" y1="671.5" x2="214.1" y2="682.5" stroke="#000" stroke-width="1.3"/>
<line x1="211" y1="671.7" x2="217.2" y2="671.7" stroke="#000" stroke-width="1"/>
<rect x="224.1" y="620.5" width="10" height="110.75" fill="#000"/>
<line x1="229.1" y1="615.5" x2="229.1" y2="621" stroke="#000" stroke-width="1.3"/>
<line x1="226" y1="615.7" x2="232.2" y2="615.7" stroke="#000" stroke-width="1"/>
<rect x="239.1" y="629.75" width="10" height="101.5" fill="#000"/>
<line x1="244.1" y1="618.75" x2="244.1" y2="630.25" stroke="#000" stroke-width="1.3"/>
<line x1="241" y1="618.95" x2="247.2" y2="618.95" stroke="#000" stroke-width="1"/>
<polyline points="78.25,561.25 78.25,557.5 229.75,557.5 229.75,598" fill="none" stroke="#1c1c1c" stroke-width="1.1"/>
<polyline points="78.25,569.5 78.25,566 188.5,566 188.5,568.25" fill="none" stroke="#1c1c1c" stroke-width="1.1"/>
<polyline points="173.75,566 173.75,598" fill="none" stroke="#1c1c1c" stroke-width="1.1"/>
<text class="st" x="173.75" y="609.8" font-size="8.4" text-anchor="middle" fill="#5e5e5e">∗</text>
<text class="st" x="188.75" y="576.05" font-size="8.4" text-anchor="middle" fill="#5e5e5e">∗</text>
<text class="st" x="229.75" y="609.8" font-size="8.4" text-anchor="middle" fill="#5e5e5e">∗</text>
<text x="132.2" y="552.1" font-size="13.8" fill="#111">Patient 5</text>
<text x="48.3" y="745.5" font-size="13.8" text-anchor="end" fill="#111">ritux</text>
<text x="20.3" y="762" font-size="13.8" textLength="28.2" lengthAdjust="spacingAndGlyphs" fill="#111">(<tspan class="mu">μ</tspan>M)</text>
<line x1="60.6" y1="737.5" x2="64.8" y2="737.5" stroke="#1c1c1c" stroke-width="1.8"/>
<line x1="74.4" y1="738.1" x2="81" y2="738.1" stroke="#1c1c1c" stroke-width="1"/>
<line x1="77.7" y1="734.8" x2="77.7" y2="741.4" stroke="#1c1c1c" stroke-width="1"/>
<line x1="100.6" y1="737.5" x2="104.8" y2="737.5" stroke="#1c1c1c" stroke-width="1.8"/>
<line x1="114.4" y1="738.1" x2="121" y2="738.1" stroke="#1c1c1c" stroke-width="1"/>
<line x1="117.7" y1="734.8" x2="117.7" y2="741.4" stroke="#1c1c1c" stroke-width="1"/>
<line x1="129.7" y1="738.1" x2="136.3" y2="738.1" stroke="#1c1c1c" stroke-width="1"/>
<line x1="133" y1="734.8" x2="133" y2="741.4" stroke="#1c1c1c" stroke-width="1"/>
<line x1="156.4" y1="737.5" x2="160.6" y2="737.5" stroke="#1c1c1c" stroke-width="1.8"/>
<line x1="170.1" y1="738.1" x2="176.7" y2="738.1" stroke="#1c1c1c" stroke-width="1"/>
<line x1="173.4" y1="734.8" x2="173.4" y2="741.4" stroke="#1c1c1c" stroke-width="1"/>
<line x1="185.1" y1="738.1" x2="191.7" y2="738.1" stroke="#1c1c1c" stroke-width="1"/>
<line x1="188.4" y1="734.8" x2="188.4" y2="741.4" stroke="#1c1c1c" stroke-width="1"/>
<line x1="211.6" y1="737.5" x2="215.8" y2="737.5" stroke="#1c1c1c" stroke-width="1.8"/>
<line x1="225.4" y1="738.1" x2="232" y2="738.1" stroke="#1c1c1c" stroke-width="1"/>
<line x1="228.7" y1="734.8" x2="228.7" y2="741.4" stroke="#1c1c1c" stroke-width="1"/>
<line x1="240.4" y1="738.1" x2="247" y2="738.1" stroke="#1c1c1c" stroke-width="1"/>
<line x1="243.7" y1="734.8" x2="243.7" y2="741.4" stroke="#1c1c1c" stroke-width="1"/>
<text x="62.3" y="754.4" font-size="12.2" text-anchor="middle" fill="#111">0</text>
<text x="77.3" y="754.4" font-size="12.2" text-anchor="middle" fill="#111">0</text>
<text x="102.3" y="754.4" font-size="12.2" text-anchor="middle" fill="#111">3</text>
<text x="116.6" y="754.4" font-size="12.2" text-anchor="middle" textLength="15.6" lengthAdjust="spacingAndGlyphs" fill="#111">0.3</text>
<text x="132.6" y="754.4" font-size="12.2" text-anchor="middle" fill="#111">3</text>
<text x="158.1" y="754.4" font-size="12.2" text-anchor="middle" fill="#111">3</text>
<text x="172.3" y="754.4" font-size="12.2" text-anchor="middle" textLength="15.6" lengthAdjust="spacingAndGlyphs" fill="#111">0.3</text>
<text x="188" y="754.4" font-size="12.2" text-anchor="middle" fill="#111">3</text>
<text x="213.3" y="754.4" font-size="12.2" text-anchor="middle" fill="#111">3</text>
<text x="227.6" y="754.4" font-size="12.2" text-anchor="middle" textLength="15.6" lengthAdjust="spacingAndGlyphs" fill="#111">0.3</text>
<text x="243.3" y="754.4" font-size="12.2" text-anchor="middle" fill="#111">3</text>
<line x1="58.4" y1="759.75" x2="83.2" y2="759.75" stroke="#222" stroke-width="0.9"/>
<text x="70" y="773.75" font-size="13.8" text-anchor="middle" fill="#111">veh</text>
<line x1="98.5" y1="759.75" x2="138.7" y2="759.75" stroke="#222" stroke-width="0.9"/>
<text x="118.6" y="773.75" font-size="13.8" text-anchor="middle" fill="#111">PZ-218</text>
<line x1="154.1" y1="759.75" x2="193.9" y2="759.75" stroke="#222" stroke-width="0.9"/>
<text x="173.5" y="773.75" font-size="13.8" text-anchor="middle" fill="#111">PZ-210</text>
<line x1="209.4" y1="759.75" x2="249" y2="759.75" stroke="#222" stroke-width="0.9"/>
<text x="229" y="773.75" font-size="13.8" text-anchor="middle" fill="#111">AMD</text>
<text transform="translate(15.1 639.9) rotate(-90)" font-size="18" text-anchor="middle" textLength="149.6" lengthAdjust="spacingAndGlyphs" fill="#111">Apoptotic cells (%)</text>
</svg>
</body></html>
